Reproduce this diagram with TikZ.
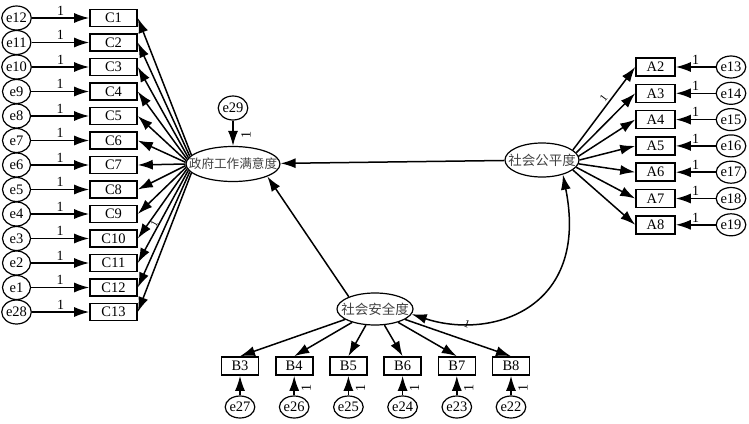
\documentclass[tikz,border=0pt]{standalone}
\usepackage{fontspec}
\setmainfont{Liberation Serif}
\newfontfamily\cjk{Noto Sans CJK SC}
\usetikzlibrary{arrows.meta,shapes.geometric,calc}
\begin{document}
\begin{tikzpicture}[x=1pt,y=-1pt,
  arr/.style={-{Latex[length=15pt,width=10pt]}, line width=1.5pt},
  darr/.style={{Latex[length=15pt,width=10pt]}-{Latex[length=15pt,width=10pt]}, line width=1.5pt},
  enode/.style={ellipse, draw, line width=1.2pt, minimum width=28pt, minimum height=24pt, inner sep=0pt, font=\fontsize{14.5}{15}\selectfont},
  obs/.style={rectangle, draw, line width=1.6pt, minimum height=17pt, inner sep=0pt, font=\fontsize{14.5}{15}\selectfont},
  lat/.style={ellipse, draw, line width=1.2pt, inner sep=0pt},
  one/.style={font=\fontsize{14}{14}\selectfont, inner sep=1pt},
  dash1/.style={font=\fontsize{14}{14}\selectfont, inner sep=0pt},
  cjktext/.style={font=\cjk\fontsize{12.6}{13}\selectfont, text=black!75}
]
\useasboundingbox (0,0) rectangle (749,423);

% latent variables
\node[lat, minimum width=94pt, minimum height=35pt] (gov) at (233,164) {};
\node[cjktext] at (gov) {政府工作满意度};
\node[lat, minimum width=74pt, minimum height=34pt] (pub) at (542,160) {};
\node[cjktext, font=\cjk\fontsize{13.5}{14}\selectfont] at (pub) {社会公平度};
\node[lat, minimum width=76pt, minimum height=32pt] (safe) at (375,309) {};
\node[cjktext, font=\cjk\fontsize{13.5}{14}\selectfont] at (safe) {社会安全度};

% e29
\node[enode] (e29) at (233,108) {e29};
\draw[arr] (e29) -- (gov);
\node[dash1] (l29) at (246,135) {\rotatebox{90}{1}};

% left column
\foreach \i/\e in {1/12,2/11,3/10,4/9,5/8,6/7,7/6,8/5,9/4,10/3,11/2,12/1,13/28} {
  \pgfmathsetmacro\yy{18+24.5*(\i-1)}
  \node[obs, minimum width=47pt] (C\i) at (113.5,\yy) {C\i};
  \node[enode] (eC\i) at (16.5,\yy) {e\e};
  \draw[arr] (eC\i) -- node[one, above=1pt]{1} (C\i);
  \pgfmathtruncatemacro\ang{168+2*(\i-1)}
  \draw[arr] (gov.\ang) -- (C\i.east);
}
\path (gov.188) -- node[one, sloped, above, pos=0.6, font=\fontsize{10}{10}\selectfont]{1} (C11.east);

% right column
\foreach \k/\a/\e in {0/2/13,1/3/14,2/4/15,3/5/16,4/6/17,5/7/18,6/8/19} {
  \pgfmathsetmacro\yy{67+26.3*\k}
  \node[obs, minimum width=39pt, minimum height=18pt] (A\a) at (655.5,\yy) {A\a};
  \node[enode, minimum width=26pt, minimum height=22pt] (eA\a) at (731,\yy) {e\e};
  \draw[arr] (eA\a) -- node[one, above=1pt]{1} (A\a);
  \pgfmathtruncatemacro\ang{18-6*\k}
  \draw[arr] (pub.\ang) -- (A\a.west);
}
\path (pub.18) -- node[one, sloped, above=2pt, pos=0.58, font=\fontsize{11}{11}\selectfont]{1} (A2.west);

% bottom row
\foreach \k/\b/\e in {0/3/27,1/4/26,2/5/25,3/6/24,4/7/23,5/8/22} {
  \pgfmathsetmacro\xx{240+54.2*\k}
  \node[obs, minimum width=37pt, minimum height=18pt] (B\b) at (\xx,366) {B\b};
  \node[enode, minimum width=26pt, minimum height=22pt] (eB\b) at (\xx,407) {e\e};
  \draw[arr] (eB\b) -- (B\b);
  \draw[arr] (safe) -- (B\b.north);
  \ifnum\b>3
    \node[dash1] (lB\b) at ($(B\b.south)+(12,12)$) {\rotatebox{90}{1}};
  \fi
}

% structural paths
\draw[arr] (pub) -- (gov);
\draw[arr] (safe.155) -- (gov.-20);
\draw[darr] (safe.-8) .. controls (490,340) and (590,310) .. (pub.-35);
\node[one, rotate=-20, font=\fontsize{11}{11}\selectfont] (lcurve) at (467,324) {1};
\end{tikzpicture}
\end{document}
